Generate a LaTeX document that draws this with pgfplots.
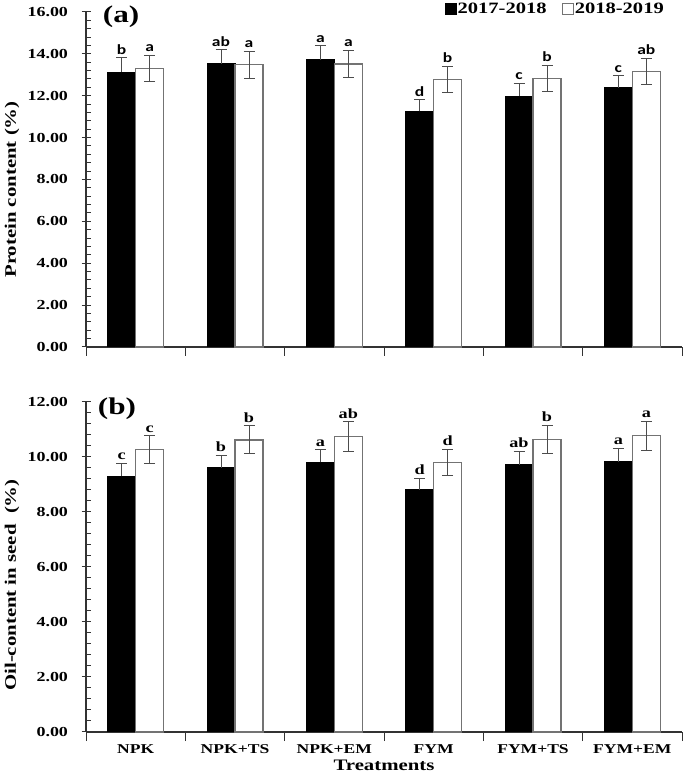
\documentclass[border=0pt]{standalone}
\usepackage{fontspec}
\setmainfont{Liberation Serif}[FakeStretch=1.3]
\newfontfamily\calib{Carlito}[FakeStretch=1.25]
\usepackage{pgfplots}
\usepackage{pgfplotstable}
\pgfplotsset{compat=1.18}

% protein content (a)
\pgfplotstableread{
x y err lab
0 13.13 0.68 b
1 13.52 0.68 ab
2 13.72 0.66 a
3 11.25 0.56 d
4 11.98 0.60 c
5 12.38 0.58 c
}\protA
\pgfplotstableread{
x y err lab
0 13.31 0.63 a
1 13.48 0.65 a
2 13.52 0.65 a
3 12.78 0.62 b
4 12.83 0.61 b
5 13.15 0.63 ab
}\protB
% oil content (b)
\pgfplotstableread{
x y err lab
0 9.30 0.47 c
1 9.61 0.45 b
2 9.80 0.46 a
3 8.80 0.43 d
4 9.71 0.49 ab
5 9.82 0.50 a
}\oilA
\pgfplotstableread{
x y err lab
0 10.26 0.51 c
1 10.62 0.51 b
2 10.74 0.54 ab
3 9.80 0.49 d
4 10.65 0.51 b
5 10.77 0.52 a
}\oilB

\definecolor{edgegray}{gray}{0.45}
\definecolor{errgray}{gray}{0.3}

\pgfplotsset{
  panel/.style={
    scale only axis, width=596pt,
    xmin=-0.5, xmax=5.5,
    axis x line=bottom, axis y line=left,
    axis line style={-, line width=1.1pt, black!80},
    xtick={-0.5,0.5,...,5.5},
    ytick distance=2, minor y tick num=4,
    tick align=center, major tick length=9pt, minor tick length=5pt,
    minor y tick style={xshift=2.5pt},
    every tick/.style={line width=1pt, black!80},
    ymin=0,
    /pgf/number format/assume math mode=true,
    yticklabel style={font=\fontsize{13.8}{15}\selectfont\bfseries, xshift=-10pt,
      /pgf/number format/.cd, fixed, fixed zerofill, precision=2},
    xticklabel style={font=\fontsize{13.5}{15}\selectfont\bfseries, xshift=49.67pt},
    ylabel style={font=\fontsize{16}{18}\selectfont\bfseries,
      at={(axis description cs:0,0.5)}, anchor=center, yshift=74pt},
    ybar=0pt, bar width=28pt,
    point meta=explicit symbolic,
    clip=false,
  },
  blk/.style={fill=black, draw=black, line width=1pt},
  wht/.style={fill=white, draw=edgegray, line width=1.2pt},
  ebar/.style={error bars/.cd, y dir=#1, y explicit,
    error bar style={line width=1pt, errgray},
    error mark options={rotate=90, mark size=5.5pt, line width=1pt, errgray}},
}

\begin{document}
\begin{tikzpicture}
\useasboundingbox (0,0) rectangle (685pt,778pt);

\begin{axis}[panel, at={(86pt,431pt)}, anchor=south west, height=335pt,
  ymax=16, xticklabels={},
  ylabel={Protein content (\%)}, ylabel style={xshift=-10pt},
  legend columns=2,
  legend style={draw=none, fill=none, at={(1,1)}, anchor=south east,
    xshift=-17pt, yshift=-4pt, inner sep=0pt,
    font=\fontsize{15.8}{17}\selectfont\bfseries,
    nodes={inner sep=1pt},
    /tikz/every even column/.append style={column sep=14pt}},
  legend image code/.code={\draw[#1] (0pt,-5.5pt) rectangle (11pt,5.5pt);},
  nodes near coords,
  visualization depends on={\thisrow{err} \as \myerr},
  every node near coord/.append style={font=\calib\fontsize{14}{15}\selectfont\bfseries,
    anchor=south, inner sep=0pt, yshift=\myerr*20.94pt+3pt},
]
\addplot[blk, ebar=plus] table[x=x, y=y, y error=err, meta=lab] {\protA};
\addplot[wht, ebar=both] table[x=x, y=y, y error=err, meta=lab] {\protB};
\legend{2017-2018, 2018-2019}
\node[font=\fontsize{24}{26}\selectfont\bfseries] at (axis description cs:0.059,0.985) {(a)};
\end{axis}

\begin{axis}[panel, at={(86pt,46pt)}, anchor=south west, height=330pt,
  ymax=12,
  xticklabels={NPK, NPK+TS, NPK+EM, FYM, FYM+TS, FYM+EM, {}},
  xlabel={Treatments},
  xlabel style={font=\fontsize{16}{18}\selectfont\bfseries},
  ylabel={Oil-content in seed~~(\%)}, ylabel style={xshift=-18pt},
  nodes near coords,
  visualization depends on={\thisrow{err} \as \myerr},
  every node near coord/.append style={font=\fontsize{14}{15}\selectfont\bfseries,
    anchor=south, inner sep=0pt, yshift=\myerr*27.5pt+3pt},
]
\addplot[blk, ebar=plus] table[x=x, y=y, y error=err, meta=lab] {\oilA};
\addplot[wht, ebar=both] table[x=x, y=y, y error=err, meta=lab] {\oilB};
\node[font=\fontsize{24}{26}\selectfont\bfseries] at (axis description cs:0.052,0.979) {(b)};
\end{axis}
\end{tikzpicture}
\end{document}
